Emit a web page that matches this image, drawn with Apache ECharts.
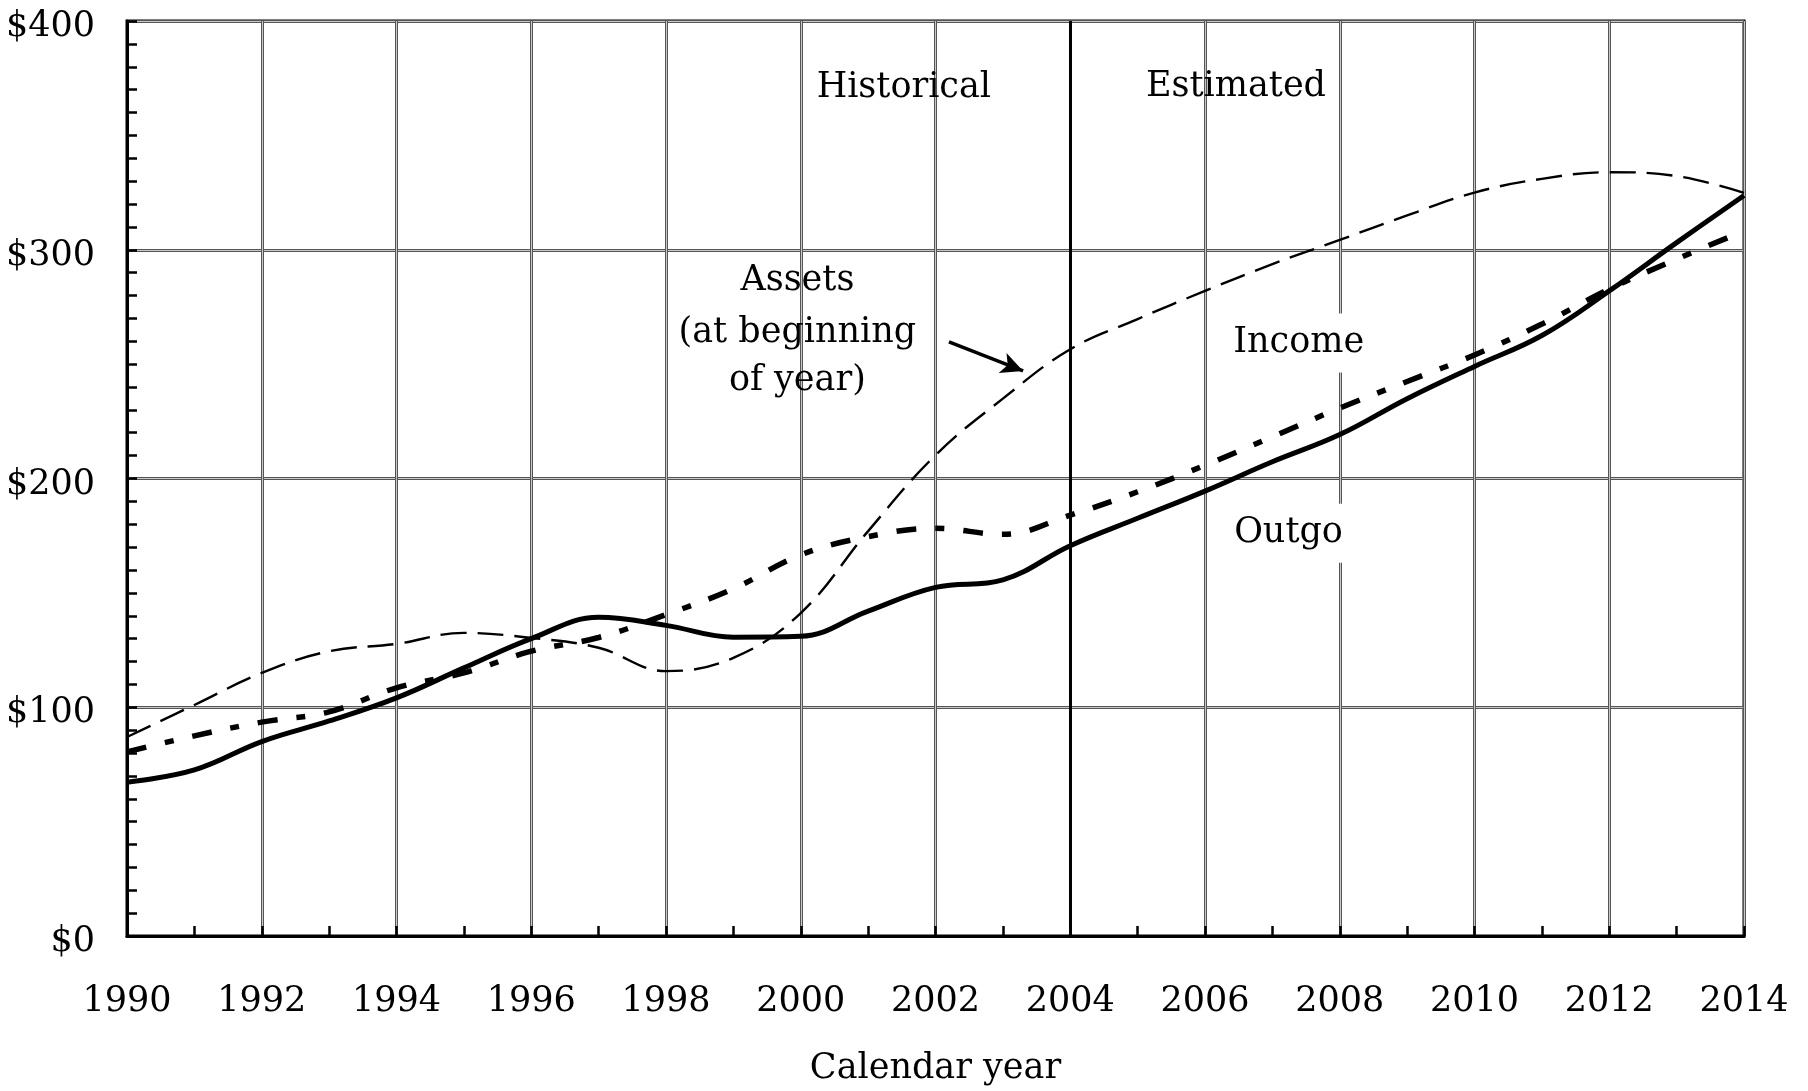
<!DOCTYPE html>
<html>
<head>
<meta charset="utf-8">
<script src="https://cdn.jsdelivr.net/npm/echarts@6/dist/echarts.min.js"></script>
<style>
  html, body { margin: 0; padding: 0; background: #fff; }
  #chart { width: 1808px; height: 1091px; }
</style>
</head>
<body>
<div id="chart"></div>
<script>
// calendar years 1990-2014, values in $ billions
const years = [1990, 1991, 1992, 1993, 1994, 1995, 1996, 1997, 1998, 1999, 2000, 2001, 2002,
  2003, 2004, 2005, 2006, 2007, 2008, 2009, 2010, 2011, 2012, 2013, 2014];
const outgo = [67.2, 72.6, 85.0, 94.0, 104.1, 117.2, 130.0, 139.3, 135.8, 130.6, 131.0, 142.0, 152.4,
  155.7, 170.6, 182.6, 194.5, 207.3, 219.2, 234.9, 249.0, 262.5, 282.0, 303.1, 323.7];
const income = [80.5, 87.5, 93.5, 98.0, 108.5, 115.0, 124.5, 130.5, 140.5, 151.8, 166.6, 174.6, 178.2,
  175.6, 184.0, 194.2, 205.8, 218.2, 230.8, 242.4, 254.0, 267.5, 282.8, 295.9, 308.2];
const assets = [87.0, 101.0, 115.0, 124.5, 127.7, 132.5, 130.3, 126.0, 115.8, 121.6, 141.2, 177.0, 210.2,
  234.9, 256.5, 269.7, 282.0, 293.7, 304.3, 315.0, 325.0, 331.0, 333.9, 332.2, 324.9];
const yTicks = [0, 100, 200, 300, 400];
const splitYear = 2004;

const font = "'DejaVu Serif', serif";
const pairs = arr => years.map((y, i) => [y, arr[i]]);

const chart = echarts.init(document.getElementById('chart'));

const option = {
  animation: false,
  backgroundColor: '#fff',
  grid: {
    left: 127, right: 64, top: 21, bottom: 152,
    show: true, borderColor: '#000', borderWidth: 3, backgroundColor: 'transparent'
  },
  xAxis: [{
    type: 'value',
    min: years[0], max: years[years.length - 1], interval: 2,
    name: 'Calendar year', nameLocation: 'middle', nameGap: 115,
    nameTextStyle: { fontFamily: font, fontSize: 35, color: '#000' },
    axisLine: { show: true, lineStyle: { color: '#000', width: 3 } },
    axisTick: { show: true, inside: true, length: 10, lineStyle: { color: '#000', width: 2.5 } },
    minorTick: { show: true, splitNumber: 2, length: 10, lineStyle: { color: '#000', width: 2.5 } },
    axisLabel: { fontFamily: font, fontSize: 35, color: '#000', margin: 48, formatter: v => String(v) },
    splitLine: { show: true, lineStyle: { color: '#555', width: 3 } }
  }, {
    type: 'value', position: 'top',
    min: years[0], max: years[years.length - 1], interval: 2,
    axisLine: { show: false }, axisTick: { show: false }, axisLabel: { show: false },
    splitLine: { show: true, lineStyle: { color: '#c8c8c8', width: 1 } }
  }],
  yAxis: [{
    type: 'value',
    min: yTicks[0], max: yTicks[yTicks.length - 1], interval: 100,
    axisLine: { show: true, lineStyle: { color: '#000', width: 3 } },
    axisTick: { show: true, inside: true, length: 10, lineStyle: { color: '#000', width: 2.5 } },
    minorTick: { show: true, splitNumber: 10, length: 10, lineStyle: { color: '#000', width: 2.5 } },
    axisLabel: {
      color: '#000', margin: 32,
      formatter: v => '{v|$' + v + '}',
      rich: { v: { fontFamily: font, fontSize: 35, color: '#000', padding: [12, 0, 0, 0] } }
    },
    splitLine: { show: true, lineStyle: { color: '#555', width: 3 } }
  }, {
    type: 'value', position: 'right',
    min: yTicks[0], max: yTicks[yTicks.length - 1], interval: 100,
    axisLine: { show: false }, axisTick: { show: false }, axisLabel: { show: false },
    splitLine: { show: true, lineStyle: { color: '#c8c8c8', width: 1 } }
  }],
  series: [{
    name: 'Assets', type: 'line', smooth: 0.4, symbol: 'none',
    data: pairs(assets),
    lineStyle: { color: '#000', width: 2.4, type: [26, 11] },
    markLine: {
      silent: true, symbol: 'none', label: { show: false },
      lineStyle: { color: '#000', width: 3, type: 'solid' },
      data: [{ xAxis: splitYear }]
    }
  }, {
    name: 'Income', type: 'line', smooth: 0.4, symbol: 'none',
    data: pairs(income),
    lineStyle: { color: '#000', width: 5.5, type: [20, 19, 9, 19], cap: 'butt' }
  }, {
    name: 'Outgo', type: 'line', smooth: 0.4, symbol: 'none',
    data: pairs(outgo),
    lineStyle: { color: '#000', width: 5 },
    markLine: {
      silent: true, label: { show: false },
      symbol: ['none', 'arrow'], symbolSize: [16, 22],
      lineStyle: { color: '#000', width: 3.5, type: 'solid' },
      data: [[{ coord: [2002.2, 259.7] }, { coord: [2003.3, 247.0] }]]
    }
  }]
};

chart.setOption(option);

// annotation texts placed in data coordinates
const notes = [
  { text: 'Historical', at: [2001.53, 372.5] },
  { text: 'Estimated', at: [2006.46, 373.0] },
  { text: 'Assets', at: [1999.95, 288.0] },
  { text: '(at beginning', at: [1999.95, 265.5] },
  { text: 'of year)', at: [1999.95, 244.4] },
  { text: 'Income', at: [2007.39, 261.0], bg: true },
  { text: 'Outgo', at: [2007.24, 177.8], bg: true }
];

chart.setOption({
  graphic: notes.map(n => {
    const p = chart.convertToPixel({ seriesIndex: 0 }, n.at);
    return {
      type: 'text', x: p[0], y: p[1] + 4, z: 100,
      style: {
        text: n.text, fontFamily: font, fontSize: 35, fill: '#000',
        align: 'center', verticalAlign: 'middle',
        backgroundColor: n.bg ? '#fff' : null, padding: n.bg ? [12, 2] : 0
      }
    };
  })
});

window.addEventListener('resize', () => chart.resize());
</script>
</body>
</html>
